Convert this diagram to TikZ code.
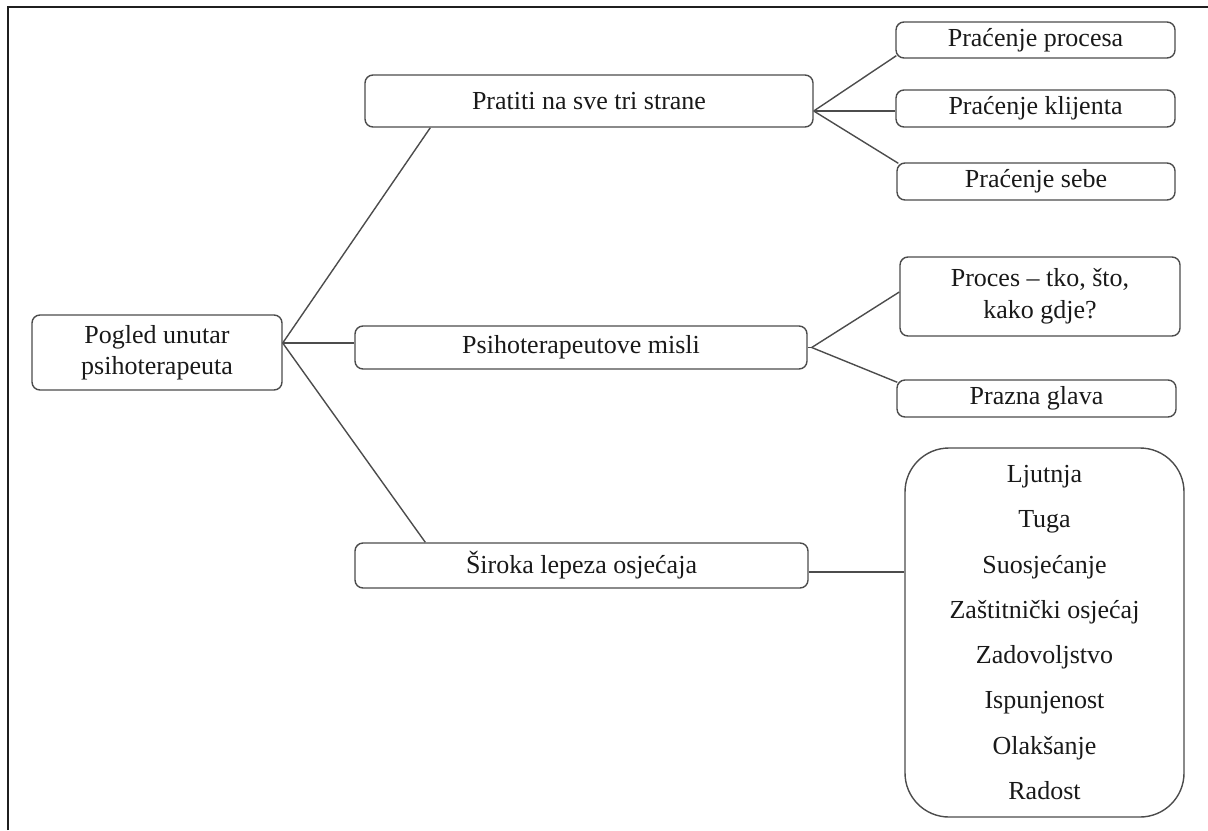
\documentclass[tikz,border=0pt]{standalone}
\usepackage{fontspec}
\setmainfont{Liberation Serif}
\begin{document}
\begin{tikzpicture}[x=0.5pt,y=-0.5pt,
  box/.style={draw=black!70, line width=0.7pt, rounded corners=4pt, align=center,
    inner sep=0pt, text=black!90, font=\fontsize{13}{15.5}\selectfont},
  bigbox/.style={box, rounded corners=22pt, font=\fontsize{13}{22.65}\selectfont},
  link/.style={draw=black!70, line width=0.7pt},
  frame/.style={draw=black!88, line width=1pt}]
\useasboundingbox (0,0) rectangle (1208,830);
\draw[frame] (7.5,830) -- (7.5,7) -- (1208,7);

\node[box, minimum width=125pt, minimum height=37.5pt] (root) at (157,352.5) {Pogled unutar\\psihoterapeuta};
\node[box, minimum width=224pt, minimum height=26pt] (pratiti) at (589,101) {Pratiti na sve tri strane};
\node[box, minimum width=226pt, minimum height=21.5pt] (psi) at (581,347.5) {Psihoterapeutove misli};
\node[box, minimum width=226.5pt, minimum height=22.5pt] (siroka) at (581.5,565.5) {Široka lepeza osjećaja};

\node[box, minimum width=139.5pt, minimum height=18pt] (pp) at (1035.5,40) {Praćenje procesa};
\node[box, minimum width=139.5pt, minimum height=18.5pt] (pk) at (1035.5,108.5) {Praćenje klijenta};
\node[box, minimum width=139pt, minimum height=18.5pt] (ps) at (1036,181.5) {Praćenje sebe};

\node[box, minimum width=140pt, minimum height=39.5pt, font=\fontsize{13}{16}\selectfont] (proces) at (1040,296.5) {Proces -- tko, što,\\kako gdje?};
\node[box, minimum width=139.5pt, minimum height=18.5pt] (prazna) at (1036.5,398.5) {Prazna glava};

\node[bigbox, minimum width=139.5pt, minimum height=184.5pt] (big) at (1044.5,632.5)
  {Ljutnja\\Tuga\\Suosjećanje\\Zaštitnički osjećaj\\Zadovoljstvo\\Ispunjenost\\Olakšanje\\Radost};

% connectors from root
\coordinate (j0) at ([yshift=4.75pt]root.east);
\draw[link] (j0) -- ([xshift=33pt]pratiti.south west);
\draw[link] (j0) -- (j0 -| psi.west);
\draw[link] (j0) -- ([xshift=35.5pt]siroka.north west);

% from Pratiti
\coordinate (j1) at ([yshift=-5pt]pratiti.east);
\draw[link] (j1) -- ([xshift=0.5pt,yshift=1.5pt]pp.south west);
\draw[link] (j1) -- (j1 -| pk.west);
\draw[link] (j1) -- ([xshift=1pt,yshift=-0.5pt]ps.north west);

% from Psihoterapeutove misli
\coordinate (j2) at ([xshift=2pt]psi.east);
\draw[link] (psi.east) -- (j2);
\draw[link] (j2) -- ([yshift=2.25pt]proces.west);
\draw[link] (j2) -- ([xshift=0.5pt,yshift=-1.5pt]prazna.north west);

% from Široka lepeza
\coordinate (j3) at ([yshift=-3.25pt]siroka.east);
\draw[link] (j3) -- (j3 -| big.west);
\end{tikzpicture}
\end{document}
